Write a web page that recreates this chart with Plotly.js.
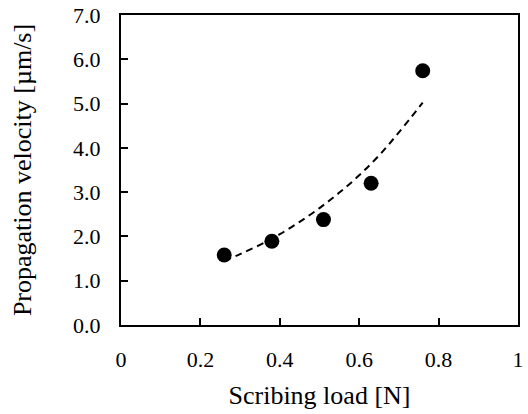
<!DOCTYPE html>
<html>
<head>
<meta charset="utf-8">
<script src="https://cdn.plot.ly/plotly-3.0.1.min.js"></script>
<style>html,body{margin:0;padding:0;background:#fff;}#chart{width:528px;height:414px;}</style>
</head>
<body>
<div id="chart"></div>
<script>
// Measured data points
var loadN = [0.26, 0.38, 0.51, 0.63, 0.76];
var velocity = [1.58, 1.89, 2.38, 3.20, 5.74];

// Dashed trend line
var trendX = [0.26, 0.30, 0.35, 0.40, 0.45, 0.50, 0.55, 0.60, 0.65, 0.70, 0.76];
var trendY = [1.45, 1.60, 1.81, 2.05, 2.33, 2.64, 2.99, 3.38, 3.83, 4.35, 5.02];

// Axis ticks
var xTicks = [0, 0.2, 0.4, 0.6, 0.8, 1];
var xTickText = ["0", "0.2", "0.4", "0.6", "0.8", "1"];
var yTicks = [0, 1, 2, 3, 4, 5, 6, 7];
var yTickText = ["0.0", "1.0", "2.0", "3.0", "4.0", "5.0", "6.0", "7.0"];

var FONT = "'Liberation Serif', 'Times New Roman', serif";

var traces = [
  {
    x: trendX, y: trendY, type: "scatter", mode: "lines",
    line: {color: "#000", width: 2, dash: "7px,5px", shape: "spline"},
    hoverinfo: "skip", showlegend: false
  },
  {
    x: loadN, y: velocity, type: "scatter", mode: "markers",
    marker: {color: "#000", size: 15, line: {width: 0}},
    showlegend: false
  }
];

var layout = {
  width: 528, height: 414,
  margin: {l: 121, r: 10, t: 15, b: 89},
  paper_bgcolor: "#fff", plot_bgcolor: "#fff",
  font: {family: FONT, color: "#000", size: 22},
  showlegend: false,
  xaxis: {
    range: [0, 1], tickvals: xTicks, ticktext: xTickText,
    ticks: "inside", ticklen: 7, tickwidth: 2, tickcolor: "#000",
    showline: true, linecolor: "#000", linewidth: 2, mirror: true,
    showgrid: false, zeroline: false,
    tickfont: {family: FONT, size: 22, color: "#000"},
    ticklabelstandoff: 14,
    title: {text: "Scribing load [N]", font: {family: FONT, size: 26, color: "#000"}, standoff: 14},
    automargin: false
  },
  yaxis: {
    range: [0, 7], tickvals: yTicks, ticktext: yTickText,
    ticks: "inside", ticklen: 7, tickwidth: 2, tickcolor: "#000",
    showline: true, linecolor: "#000", linewidth: 2, mirror: true,
    showgrid: false, zeroline: false,
    tickfont: {family: FONT, size: 22, color: "#000"},
    ticklabelstandoff: 14,
    title: {text: "Propagation velocity [µm/s]", font: {family: FONT, size: 26, color: "#000"}, standoff: 34},
    automargin: false
  }
};

Plotly.newPlot("chart", traces, layout, {displayModeBar: false, staticPlot: true});
</script>
</body>
</html>
